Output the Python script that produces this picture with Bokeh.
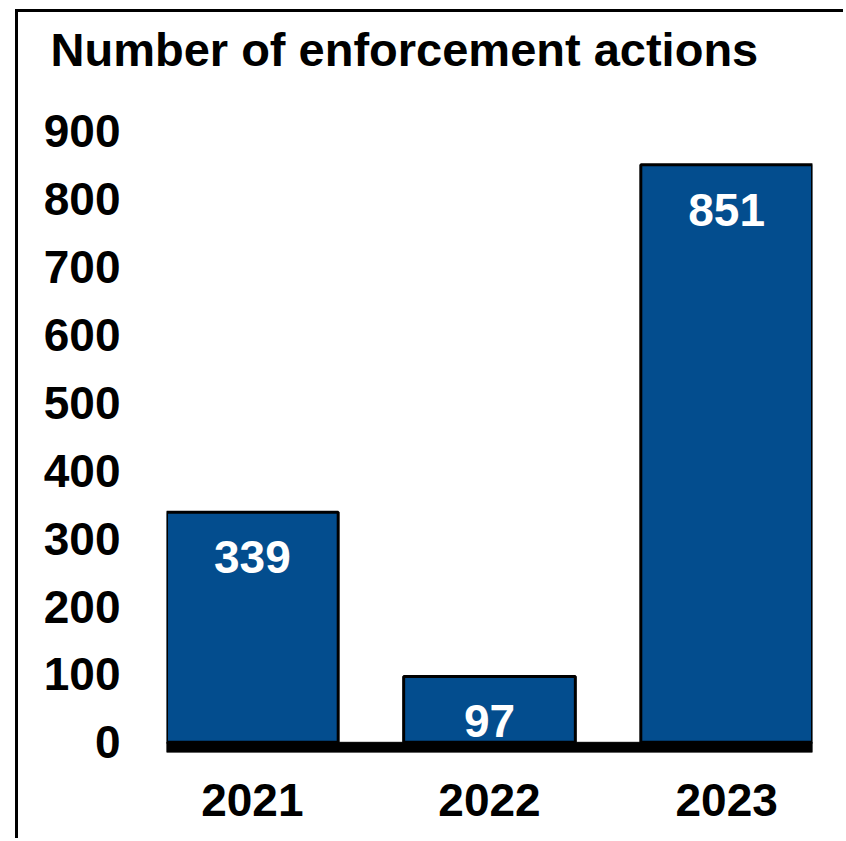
from bokeh.plotting import figure
from bokeh.models import Range1d, FixedTicker, ColumnDataSource
from bokeh.core.properties import value
from bokeh.embed import file_html
from bokeh.resources import INLINE

title_text = "Number of enforcement actions"
years = ["2021", "2022", "2023"]
actions = [339, 97, 851]
y_ticks = [0, 100, 200, 300, 400, 500, 600, 700, 800, 900]

BAR_W = 0.724
BAR_COLOR = "#034D8E"
FONT = "Liberation Sans"
Y_MIN, Y_MAX = -15, 975

xs = list(range(len(years)))
src = ColumnDataSource(dict(x=xs, top=actions, label=[str(v) for v in actions]))

W, H = 828, 829
x_lo, x_hi = -BAR_W / 2, len(years) - 1 + BAR_W / 2
p = figure(width=W, height=H, output_backend="svg", toolbar_location=None,
           x_range=Range1d(x_lo, x_hi), y_range=Range1d(Y_MIN, Y_MAX),
           min_border_left=148, min_border_right=34, min_border_top=68,
           min_border_bottom=89)
p.margin = (9, 0, 0, 15)
p.styles = {"border-left": "3px solid black", "border-top": "3px solid black"}

p.title.text = title_text
p.title.text_font = FONT
p.title.text_font_size = "47px"
p.title.text_font_style = "bold"
p.title.text_color = "black"
p.title.align = "left"
p.title.offset = -116
p.title.standoff = 10

p.vbar(x="x", top="top", width=BAR_W, bottom=0, source=src,
       fill_color=BAR_COLOR, line_color="black", line_width=3)
# baseline band
p.quad(left=[x_lo], right=[x_hi], bottom=[Y_MIN], top=[0],
       fill_color="black", line_color="black")
p.text(x="x", y="top", text="label", source=src, text_color="white",
       text_font=value(FONT), text_font_size="46px", text_font_style="bold",
       text_align="center", text_baseline="middle", y_offset=45)

p.xaxis.ticker = FixedTicker(ticks=xs)
p.xaxis.major_label_overrides = {i: y for i, y in enumerate(years)}
p.yaxis.ticker = FixedTicker(ticks=y_ticks)
for ax in (p.xaxis, p.yaxis):
    ax.axis_line_color = None
    ax.major_tick_line_color = None
    ax.minor_tick_line_color = None
    ax.major_label_text_font = FONT
    ax.major_label_text_font_size = "46px"
    ax.major_label_text_font_style = "bold"
    ax.major_label_text_color = "black"
p.xaxis.major_label_standoff = 25
p.yaxis.major_label_standoff = 40

p.xgrid.grid_line_color = None
p.ygrid.grid_line_color = None
p.outline_line_color = None
p.background_fill_color = "white"
p.border_fill_color = "white"

open("out.html", "w").write(file_html(p, INLINE))
